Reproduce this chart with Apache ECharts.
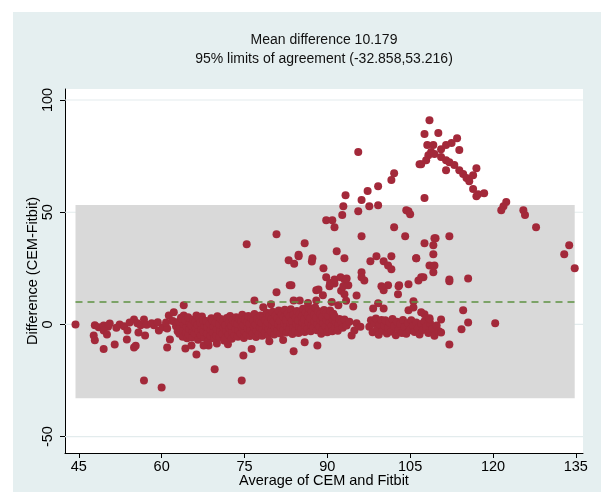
<!DOCTYPE html>
<html><head><meta charset="utf-8">
<script src="https://cdn.jsdelivr.net/npm/echarts@6/dist/echarts.min.js"></script>
<style>
html,body{margin:0;padding:0;background:#fff}
#wrap{position:relative;width:601px;height:492px;background:#fff}
#panel{position:absolute;left:13px;top:12px;width:588px;height:480px;background:#e5eff0}
#c{position:absolute;left:0;top:0;width:601px;height:492px}
</style>
</head><body><div id="wrap"><div id="panel"></div><div id="c"></div></div>
<script>
const titleLines = ['Mean difference 10.179', '95% limits of agreement (-32.858,53.216)'];
const xTitle = 'Average of CEM and Fitbit';
const yTitle = 'Difference (CEM-Fitbit)';
const meanDiff = 10.179;
const lowerLimit = -32.858;
const upperLimit = 53.216;
const xTicks = [45, 60, 75, 90, 105, 120, 135];
const yTicks = [-50, 0, 50, 100];

// [average, difference] pairs
const leftCluster = [
[44.4,0],[47.9,-0.4],[48.6,-1.3],[49.5,-0.5],[50.3,-1.0],[50.6,0.4],[49.5,-2.7],[47.7,-4.9],[47.9,-7.1],[49.5,-11],
[51.5,-8.9],[50.1,-4.5],[52.4,0],[53.2,-0.8],[53.8,-2.7],[53.7,-6.7],[55.0,2.2],[55.6,0.5],[56.2,-0.4],[56.8,2.2],
[57.3,-0.2],[55.0,-10.3],[55.3,-9.5],[55.8,-3.6],[57.0,-4.9],[58.6,-0.4],[59.5,-2.7],[60.2,-1.3],[61.0,-1.8],[61.0,-10.3],
[61.3,4.0],[62.2,5.4],[64.0,8.5],[64.0,4.0],[61.5,-6.7],[56.8,-25],[60.0,-28.1],[58.2,0.5],[59.3,1],[60.8,0.8],
[62.0,1.5],[62.6,-0.8],[62.9,-3],[54.2,0.8],[51.8,-1.5]
];
const lowOutliers = [
[64.3,-10.7],[65.4,-9.4],[66.3,-13.4],[68.5,-9.4],[69.6,-20],[74.5,-25],[74.8,-13.8],[76.3,-11],[83.9,-12],[85.9,-8],
[88.2,-9.4],[67.6,-9.4],[70,-8.5],[72,-8.8],[79.5,-7.5],[82,-7]
];
const mainBand = [
[63.2,-4.2],[63.3,-1.5],[63.1,1.2],[63.5,3.0],[63.8,-5.5],[63.9,-2.8],[64.0,0.2],[63.7,2.4],
[64.4,-3.8],[64.5,-0.9],[64.3,1.8],[64.6,-6.2],[64.9,-4.6],[65.0,-2.0],[65.1,0.6],[64.8,3.2],
[65.5,-5.8],[65.6,-3.1],[65.4,-0.4],[65.7,2.1],[66.0,-4.0],[66.2,-1.6],[66.1,1.0],[66.3,4.0],
[66.6,-6.8],[66.7,-2.9],[66.5,-0.2],[66.8,2.6],[67.1,-4.8],[67.2,-1.9],[67.0,0.8],[67.3,3.5],
[67.7,-5.9],[67.6,-3.3],[67.8,-0.6],[67.5,1.9],[68.2,-4.1],[68.3,-1.2],[68.1,1.5],[68.4,-7.5],
[68.8,-5.2],[68.9,-2.4],[68.7,0.3],[69.0,2.8],[69.3,-3.7],[69.4,-0.8],[69.2,1.7],[69.5,-6.3],
[69.9,-4.9],[70.0,-2.1],[69.8,0.9],[70.1,3.6],
[70.5,-5.6],[70.6,-2.8],[70.4,0.1],[70.7,2.4],[71.0,-4.2],[71.2,-1.4],[71.1,1.3],[71.3,-7.2],
[71.6,-5.9],[71.7,-3.0],[71.5,-0.3],[71.8,2.9],[72.1,-4.5],[72.3,-1.7],[72.2,1.0],[72.4,3.8],
[72.7,-6.4],[72.8,-3.3],[72.6,-0.6],[72.9,2.0],[73.2,-4.8],[73.4,-2.0],[73.3,0.7],[73.5,3.2],
[73.8,-5.5],[73.9,-2.6],[73.7,0.2],[74.0,2.6],[74.3,-4.0],[74.5,-1.2],[74.4,1.5],[74.6,4.3],
[74.9,-6.0],[75.0,-3.1],[74.8,-0.4],[75.1,2.2],
[75.4,-4.6],[75.6,-1.8],[75.5,1.0],[75.7,3.7],[76.0,-5.2],[76.1,-2.5],[75.9,0.3],[76.2,2.9],
[76.5,-3.9],[76.7,-1.0],[76.6,1.7],[76.8,4.6],[77.1,-5.6],[77.2,-2.8],[77.0,0.0],[77.3,2.5],
[77.6,-4.2],[77.8,-1.4],[77.7,1.3],[77.9,4.0],[78.2,-5.0],[78.3,-2.2],[78.1,0.6],[78.4,3.3],
[78.7,-3.6],[78.9,-0.7],[78.8,2.0],[79.0,5.2],[79.3,-4.8],[79.4,-2.0],[79.2,0.9],[79.5,3.6],
[79.8,-3.2],[80.0,-0.3],[79.9,2.4],[80.1,5.6],
[80.4,-4.5],[80.5,-1.6],[80.3,1.2],[80.6,4.0],[80.9,-2.8],[81.1,0.0],[81.0,2.8],[81.2,6.2],
[81.5,-4.0],[81.6,-1.2],[81.4,1.6],[81.7,4.4],[82.0,-2.5],[82.2,0.4],[82.1,3.2],[82.3,6.5],
[82.6,-3.6],[82.7,-0.8],[82.5,2.0],[82.8,4.8],[83.1,-2.2],[83.3,0.7],[83.2,3.5],[83.4,6.8],
[83.7,-4.3],[83.8,-1.4],[83.6,1.5],[83.9,4.3],[84.2,-2.7],[84.4,0.2],[84.3,3.0],[84.5,6.0],
[84.8,-3.8],[84.9,-1.0],[84.7,1.8],[85.0,4.7],[85.3,-2.1],[85.5,0.8],[85.4,3.6],[85.6,7.0],
[85.9,-3.4],[86.0,-0.5],[85.8,2.3],[86.1,5.2],[86.4,-1.8],[86.6,1.1],[86.5,4.0],[86.7,7.2],
[87.0,-3.0],[87.1,-0.1],[86.9,2.7],[87.2,5.6],[87.5,-1.5],[87.7,1.4],[87.6,4.3],[87.8,7.5],
[88.1,-2.6],[88.2,0.3],[88.0,3.1],[88.3,6.0],[88.6,-1.2],[88.8,1.7],[88.7,4.6],[88.9,-4.2],
[89.2,-2.3],[89.3,0.6],[89.1,3.4],[89.4,6.4],[89.7,-0.9],[89.9,2.0],[89.8,4.9],[90.0,-3.5],
[90.3,-1.9],[90.4,0.9],[90.2,3.7],[90.5,6.2],[90.8,-0.6],[91.0,2.2],[90.9,-3.0],[91.1,4.8],
[91.4,-1.6],[91.5,1.2],[91.3,3.6],[92.0,-0.2],[92.2,2.4],[91.9,-2.8],[92.6,0.8],[92.8,-1.5],
[93.1,2.2],[93.5,-0.5],[94.0,1.2],[94.4,-4.9],[94.9,-2.7],[95.3,0.5],[96.0,-1.0]
];
const secondBand = [
[97.6,-1.0],[97.9,1.8],[98.2,-3.5],[98.5,0.4],[98.8,2.6],[99.0,-2.0],[99.3,-4.6],[99.5,0.0],[99.8,2.0],[100.0,-2.8],
[100.3,-0.5],[100.5,1.8],[100.8,-4.0],[101.0,-1.5],[101.3,0.8],[101.6,-3.2],[101.8,2.4],[102.1,-0.8],[102.4,-4.8],[102.6,1.2],
[102.9,-2.2],[103.2,0.2],[103.5,-3.8],[103.7,2.0],[104.0,-1.2],[104.3,-4.2],[104.6,0.6],[104.9,-2.6],[105.2,1.8],[105.5,-0.6],
[105.8,-3.4],[106.1,0.8],[106.4,-1.8],[106.7,-4.5],[107.0,0.2],[107.3,-2.5],[107.6,1.4],[107.9,-1.0],[108.3,-3.8],[108.6,0.5],
[109.0,-2.0],[109.4,-5.0],[109.8,-0.5],[110.2,-3.0],[110.6,2.2],[110.6,-3.6],[112.1,-8.9],[114.3,-2.2],[115.5,0.9],[114.6,6.3],
[120.4,0.5],[108.5,2.2],[107.6,4.5]
];
const upperScatter = [
[76.8,10.7],[78.4,7.6],[79.8,9],[80.8,14.3],[83.2,17.4],[83.9,10.7],[85,10.7],[88,15.2],[88,10.7],[89.2,13],
[90.4,17],[91.3,18.2],[92.5,15],[93.1,13.4],[86.5,9.5],[90.8,10],[92,8.5],
[75.4,35.7],[80.8,40.2],[85.9,36.2],[84.8,30.4],[83,28.6],[87.3,29.5],[91.7,32.6],[93.1,29.5],[89.8,46.4],
[90.9,46.4],[91.3,43.3],[92.7,48.7],[92.9,52.7],[93.3,57.6],[95.6,50.4],[96.2,55.4],[97.6,52.7],[99.2,53.1],[97.3,59.4],
[99.2,61.6],[101.6,64.3],[102.1,67.4],[95.6,76.8],[96.2,39.3],[102.1,43.3],[104.7,50.4],[104.3,50.9],[105,49.1],[104.1,39.3],
[98.9,30.4],[101.6,30.4],[106.1,29.5],[97.8,28.1],[100.2,28.1],[101,26.3],[101.6,24.6],[93.1,20.1],[93.8,17.4],[96.2,23.2],
[96.7,19.6],[95.3,12.9],[101,17.4],[100.2,15.2],[103,17.4],[102.8,13.4],[104.7,17.9],[106.5,19.6],[107.4,21],[94.7,8],
[99.2,9.4],[98.3,7.1],[100.2,7.1],[105.6,10.3],[104.7,6.3],[107,5.4],[109.6,38.4],
[84,27],[84.8,31],[87.2,28],[89.3,25],[89.8,21],[90.5,18.5],[91.3,20],[92.4,21],[93.5,20.5],[92.9,17],[93.4,10.5],
[83.5,17.4],[88.4,15.6],[96.2,21],[99.8,17],[102.9,17],[105.6,7.5],[108.5,2.8],
[107.6,36.2],[109.4,38.4],[109.2,35.3],[112.1,39.3],[106.1,29.5],[109.2,31.3],[108.5,26.3],[109.4,26.3],[109.2,23.2],
[115.5,20.5],[107,21],[112.1,20],[112.1,19.2],[107.6,56.3],[106.7,71.4]
];
const peakCluster = [
[108.5,91],[107.6,84.8],[110.1,85.3],[108.1,79.9],[109.2,79.9],[108.8,76.8],[108.3,75.4],[107,71.4],[107.9,73.2],[109.4,75.9],
[110.6,78],[111.5,79.9],[112.5,80.8],[113.5,83],[113.9,77.7],[110.6,74.6],[111.5,73.2],[112.1,72.3],[113,71],[111.5,68.7],
[113.9,68.7],[114.6,67],[115.2,65.2],[115.7,63.8],[117,69.6],[116.4,66.5],[116.4,60.3],[117.3,58],[118.4,58.5],[117,57.1],
[122.4,54.5],[121.9,52.7],[121.5,50.9],[125.5,50.9],[125.8,48.7],[127.8,43.3],[133.8,35.3],[132.9,31.3],[134.8,25]
];

const allPoints = [].concat(leftCluster, lowOutliers, mainBand, secondBand, upperScatter, peakCluster);
const xMinData = Math.min.apply(null, allPoints.map(p => p[0]));
const xMaxData = Math.max.apply(null, allPoints.map(p => p[0]));
const xAxisMin = 42.5, xAxisMax = 136.3;

const gridBands = yTicks.map(v => [
  {coord: [xAxisMin, v - 0.25], itemStyle: {color: '#e3eced', opacity: 1}},
  {coord: [xAxisMax, v + 0.25]}
]);
const agreementBand = [
  {coord: [xMinData, lowerLimit], itemStyle: {color: '#d9d9d9', opacity: 1}},
  {coord: [xMaxData, upperLimit]}
];

const font = 'Liberation Sans, Arial, sans-serif';
const chart = echarts.init(document.getElementById('c'));
chart.setOption({
  backgroundColor: 'transparent',
  animation: false,
  graphic: [
    {type: 'text', x: 324, y: 40, style: {text: titleLines[0], textAlign: 'center', textVerticalAlign: 'middle', font: '14px ' + font, fill: '#111'}},
    {type: 'text', x: 324, y: 59, style: {text: titleLines[1], textAlign: 'center', textVerticalAlign: 'middle', font: '14px ' + font, fill: '#111'}}
  ],
  grid: {left: 65, right: 18, top: 89, bottom: 39, containLabel: false, outerBoundsMode: 'none',
         show: true, backgroundColor: '#ffffff', borderWidth: 0},
  xAxis: {
    type: 'value', min: xAxisMin, max: xAxisMax,
    axisLine: {show: true, onZero: false, lineStyle: {color: '#000', width: 1}},
    axisTick: {show: true, customValues: xTicks, length: 5, lineStyle: {color: '#000'}},
    axisLabel: {customValues: xTicks, color: '#000', fontSize: 14.5, fontFamily: font, margin: 6},
    splitLine: {show: false},
    name: xTitle, nameLocation: 'middle', nameGap: 20, nameMoveOverlap: false,
    nameTextStyle: {color: '#000', fontSize: 14.5, fontFamily: font}
  },
  yAxis: {
    type: 'value', min: -57.3, max: 104.9,
    axisLine: {show: true, onZero: false, lineStyle: {color: '#000', width: 1}},
    axisTick: {show: true, customValues: yTicks, length: 5, lineStyle: {color: '#000'}},
    axisLabel: {customValues: yTicks, rotate: 90, color: '#000', fontSize: 14.5, fontFamily: font, margin: 10},
    splitLine: {show: false},
    name: yTitle, nameLocation: 'middle', nameGap: 25, nameMoveOverlap: false,
    nameTextStyle: {color: '#000', fontSize: 14.5, fontFamily: font}
  },
  series: [
    {
      type: 'line', data: [], z: 1, silent: true,
      markArea: {
        silent: true,
        data: gridBands.concat([agreementBand])
      }
    },
    {
      type: 'line', data: [], z: 2, silent: true,
      markLine: {
        silent: true, symbol: 'none', animation: false,
        label: {show: false},
        lineStyle: {color: '#5e9142', width: 1.6, type: [7, 5]},
        data: [[{coord: [xMinData, meanDiff]}, {coord: [xMaxData, meanDiff]}]]
      }
    },
    {
      type: 'scatter', z: 3, data: allPoints, symbol: 'circle', symbolSize: 8,
      itemStyle: {color: '#a3293a', opacity: 1}
    }
  ]
});
</script>
</body></html>
